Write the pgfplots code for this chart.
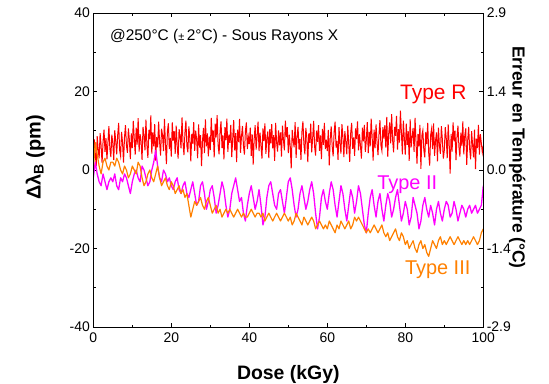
\documentclass[border=0pt]{standalone}
\usepackage{fontspec}
\setmainfont{Liberation Sans}
\usepackage{pgfplots}
\pgfplotsset{compat=1.18}
\usepackage{pgfplotstable}
\definecolor{cR}{RGB}{255,0,0}
\definecolor{cII}{RGB}{255,0,255}
\definecolor{cIII}{RGB}{255,128,0}

% Type R (dense noisy trace)
\pgfplotstableread{
x y
0 2.1
0.25 7.8
0.5 4.3
0.75 0.9
1 8.6
1.25 5.2
1.5 3.0
1.75 9.4
2 6.1
2.25 1.8
2.5 7.2
2.75 10.3
3 4.6
3.25 8.1
3.5 2.7
3.75 6.9
4 11.2
4.25 5.4
4.5 3.3
4.75 9.0
5 6.8
5.25 2.5
5.5 10.1
5.75 7.4
6 4.0
6.25 8.8
6.5 12.0
6.75 5.1
7 3.6
7.25 9.7
7.5 7.0
7.75 1.9
8 8.3
8.25 11.4
8.5 6.2
8.75 4.4
9 10.6
9.25 7.7
9.5 2.8
9.75 9.3
10 5.6
10.25 12.5
10.5 8.0
10.75 3.9
11 10.8
11.25 6.5
11.5 13.2
11.75 4.7
12 9.1
12.25 7.3
12.5 2.6
12.75 11.0
13 8.7
13.25 5.0
13.5 12.8
13.75 6.4
14 3.1
14.25 10.2
14.5 7.9
14.75 13.9
15 4.2
15.25 9.6
15.5 6.0
15.75 11.7
16 2.4
16.25 8.4
16.5 5.8
16.75 12.3
17 7.1
17.25 3.7
17.5 10.5
17.75 8.9
18 4.8
18.25 13.0
18.5 6.6
18.75 1.5
19 9.8
19.25 11.9
19.5 5.3
19.75 8.2
20 3.4
20.25 12.1
20.5 7.5
20.75 9.9
21 4.1
21.25 11.3
21.5 6.3
21.75 2.9
22 10.4
22.25 8.6
22.5 5.5
22.75 13.4
23 7.0
23.25 3.8
23.5 9.5
23.75 12.6
24 6.1
24.25 4.5
24.5 11.1
24.75 8.0
25 2.2
25.25 9.2
25.5 6.7
25.75 12.2
26 4.9
26.25 10.0
26.5 7.8
26.75 3.0
27 11.6
27.25 5.7
27.5 8.9
27.75 1.0
28 7.4
28.25 10.7
28.5 4.3
28.75 12.9
29 6.0
29.25 9.3
29.5 3.5
29.75 8.5
30 5.1
30.25 13.3
30.5 7.2
30.75 10.1
31 3.2
31.25 11.8
31.5 8.3
31.75 14.0
32 6.4
32.25 4.0
32.5 9.7
32.75 12.4
33 5.6
33.25 8.8
33.5 2.7
33.75 10.9
34 7.6
34.25 13.1
34.5 4.6
34.75 9.0
35 6.9
35.25 11.5
35.5 3.3
35.75 8.1
36 12.7
36.25 5.0
36.5 9.4
36.75 2.0
37 10.3
37.25 7.1
37.5 13.0
37.75 4.4
38 8.6
38.25 11.2
38.5 6.2
38.75 3.9
39 9.9
39.25 12.1
39.5 5.3
39.75 8.4
40 6.6
40.25 10.8
40.5 3.6
40.75 9.1
41 1.4
41.25 7.9
41.5 11.4
41.75 5.2
42 8.7
42.25 12.3
42.5 4.8
42.75 9.5
43 6.1
43.25 2.9
43.5 10.6
43.75 7.4
44 11.9
44.25 4.1
44.5 8.2
44.75 9.8
45 3.0
45.25 10.4
45.5 6.8
45.75 11.7
46 5.5
46.25 8.9
46.5 2.3
46.75 12.0
47 7.0
47.25 4.7
47.5 10.1
47.75 6.3
48 9.6
48.25 3.4
48.5 11.3
48.75 7.7
49 5.0
49.25 12.6
49.5 8.4
49.75 10.9
50 4.3
50.25 9.0
50.5 6.0
50.75 0.4
51 10.2
51.25 7.5
51.5 5.8
51.75 12.2
52 3.1
52.25 8.6
52.5 11.0
52.75 5.2
53 7.9
53.25 2.6
53.5 9.8
53.75 12.4
54 6.6
54.25 4.0
54.5 10.7
54.75 8.1
55 2.0
55.25 9.3
55.5 6.9
55.75 11.8
56 4.5
56.25 8.2
56.5 12.5
56.75 5.9
57 3.7
57.25 10.0
57.5 7.2
57.75 11.4
58 4.9
58.25 8.8
58.5 2.8
58.75 10.5
59 6.4
59.25 12.0
59.5 5.3
59.75 7.7
60 4.8
60.25 10.2
60.5 1.2
60.75 8.0
61 11.1
61.25 6.1
61.5 3.5
61.75 9.6
62 12.3
62.25 5.7
62.5 7.4
62.75 2.6
63 10.9
63.25 6.8
63.5 4.2
63.75 11.7
64 8.5
64.25 3.3
64.5 9.9
64.75 7.1
65 4.0
65.25 11.3
65.5 6.5
65.75 2.1
66 9.4
66.25 12.0
66.5 5.4
66.75 8.3
67 3.6
67.25 10.6
67.5 7.9
67.75 12.4
68 5.0
68.25 9.1
68.5 6.2
68.75 2.9
69 10.8
69.25 7.3
69.5 11.5
69.75 4.6
70 7.5
70.25 12.2
70.5 4.3
70.75 9.7
71 6.0
71.25 13.1
71.5 8.4
71.75 2.4
72 10.3
72.25 5.6
72.5 11.6
72.75 7.2
73 3.8
73.25 9.0
73.5 12.7
73.75 6.3
74 4.9
74.25 10.9
74.5 8.0
74.75 11.4
75 5.7
75.25 13.5
75.5 3.4
75.75 9.3
76 12.1
76.25 6.8
76.5 14.2
76.75 7.6
77 4.5
77.25 11.0
77.5 8.7
77.75 13.8
78 5.2
78.25 10.4
78.5 7.0
78.75 15.1
79 9.5
79.25 4.0
79.5 12.6
79.75 8.1
80 3.9
80.25 11.8
80.5 6.4
80.75 9.9
81 2.3
81.25 12.9
81.5 5.8
81.75 8.5
82 10.7
82.25 4.6
82.5 13.3
82.75 7.1
83 1.6
83.25 9.2
83.5 6.0
83.75 11.5
84 0.3
84.25 8.8
84.5 10.1
84.75 5.1
85 3.2
85.25 9.7
85.5 6.6
85.75 12.0
86 4.4
86.25 1.1
86.5 8.9
86.75 10.5
87 5.3
87.25 11.9
87.5 3.6
87.75 7.4
88 9.6
88.25 2.2
88.5 10.8
88.75 6.2
89 4.1
89.25 11.2
89.5 7.8
89.75 2.9
90 5.0
90.25 10.9
90.5 8.1
90.75 3.0
91 11.6
91.25 6.7
91.5 -0.9
91.75 9.2
92 4.7
92.25 12.1
92.5 7.3
92.75 10.0
93 2.5
93.25 8.4
93.5 11.3
93.75 5.9
94 3.4
94.25 9.5
94.5 6.1
94.75 12.4
95 4.0
95.25 8.8
95.5 10.6
95.75 1.3
96 7.6
96.25 11.0
96.5 5.4
96.75 2.7
97 9.9
97.25 6.5
97.5 3.2
97.75 10.3
98 0.2
98.25 8.0
98.5 5.6
98.75 11.5
99 3.9
99.25 9.1
99.5 6.8
99.75 4.5
100 6.2
}\redtable

% Type II (m) and Type III (o)
\pgfplotstableread{
x m o
0 -2 0
0.5 2 7
1 -1 4
1.5 -3 1
2 -4 -1
2.5 -1 2
3 -3 3
3.5 -5 1
4 -3 0
4.5 -2 2
5 -3 2
5.5 -1 1
6 -4 3
6.5 -5 2
7 -2 0
7.5 -3 -1
8 -1 1
8.5 -2 0
9 -4 -2
9.5 -6 -1
10 -3 1
10.5 -1 0
11 0 -1
11.5 -2 2
12 -3 1
12.5 1 -2
13 0 -4
13.5 -2 -3
14 -4 -1
14.5 -3 0
15 0 -2
15.5 2 -3
16 5 -1
16.5 1 1
17 -2 -2
17.5 -3 -4
18 0 -3
18.5 -1 -2
19 -3 -4
19.5 -2 -5
20 -4 -3
20.5 -5 -4
21 -3 -6
21.5 -2 -5
22 -5 -4
22.5 -6 -6
23 -4 -5
23.5 -3 -7
24 -6 -6
24.5 -7 -9
25 -5 -12
25.5 -3 -10
26 -6 -8
26.5 -9 -9
27 -8 -8
27.5 -4 -7
28 -3 -9
28.5 -6 -10
29 -10 -8
29.5 -8 -7
30 -5 -9
30.5 -4 -11
31 -7 -10
31.5 -11 -9
32 -9 -11
32.5 -6 -10
33 -3 -12
33.5 -5 -11
34 -9 -10
34.5 -12 -11
35 -10 -10
35.5 -6 -11
36 -4 -12
36.5 -2 -11
37 -5 -10
37.5 -8 -11
38 -7 -12
38.5 -11 -11
39 -13 -12
39.5 -9 -12
40 -6 -11
40.5 -4 -10
41 -7 -11
41.5 -10 -12
42 -8 -11
42.5 -5 -11
43 -9 -12
43.5 -14 -11
44 -12 -13
44.5 -7 -12
45 -4 -11
45.5 -3 -12
46 -6 -13
46.5 -9 -12
47 -10 -11
47.5 -6 -12
48 -5 -13
48.5 -8 -12
49 -11 -11
49.5 -7 -12
50 -3 -13
50.5 -2 -12
51 -5 -14
51.5 -9 -13
52 -12 -11
52.5 -10 -12
53 -6 -13
53.5 -4 -14
54 -7 -12
54.5 -10 -13
55 -8 -14
55.5 -5 -13
56 -3 -12
56.5 -6 -13
57 -11 -15
57.5 -15 -14
58 -12 -13
58.5 -7 -14
59 -5 -15
59.5 -8 -14
60 -10 -15
60.5 -6 -13
61 -3 -14
61.5 -5 -15
62 -9 -16
62.5 -12 -14
63 -8 -15
63.5 -4 -13
64 -6 -14
64.5 -10 -15
65 -13 -14
65.5 -9 -13
66 -5 -15
66.5 -7 -14
67 -11 -12
67.5 -8 -13
68 -4 -12
68.5 -6 -13
69 -10 -14
69.5 -14 -15
70 -16 -16
70.5 -11 -15
71 -7 -16
71.5 -5 -15
72 -9 -14
72.5 -12 -15
73 -8 -16
73.5 -6 -15
74 -10 -14
74.5 -13 -16
75 -9 -17
75.5 -6 -16
76 -8 -18
76.5 -12 -17
77 -10 -16
77.5 -7 -15
78 -5 -17
78.5 -9 -18
79 -13 -16
79.5 -11 -17
80 -8 -19
80.5 -10 -18
81 -14 -20
81.5 -12 -19
82 -7 -18
82.5 -9 -20
83 -11 -21
83.5 -15 -19
84 -13 -18
84.5 -9 -20
85 -7 -19
85.5 -10 -21
86 -12 -22
86.5 -9 -20
87 -11 -18
87.5 -14 -19
88 -10 -20
88.5 -8 -18
89 -11 -17
89.5 -13 -19
90 -10 -18
90.5 -8 -19
91 -9 -18
91.5 -12 -17
92 -11 -18
92.5 -8 -19
93 -10 -18
93.5 -13 -17
94 -11 -18
94.5 -9 -19
95 -10 -18
95.5 -12 -19
96 -10 -18
96.5 -9 -19
97 -11 -18
97.5 -10 -17
98 -9 -18
98.5 -11 -19
99 -10 -18
99.5 -9 -16
100 -4 -15
}\datatable

\begin{document}
\begin{tikzpicture}
\pgfplotsset{common/.style={
  scale only axis, width=390bp, height=314bp,
  xmin=0, xmax=100, ymin=-40, ymax=40,
  tick align=inside,
  major tick length=4bp, minor tick length=2.5bp,
  axis line style={line width=0.9pt},
  every tick/.style={black, line width=0.8pt},
  tick label style={font=\fontsize{14}{16}\selectfont},
  /pgf/number format/assume math mode=true,
}}
\begin{axis}[common,
  xtick={0,20,...,100}, minor xtick={10,30,...,90},
  ytick={-40,-20,...,40}, minor ytick={-30,-10,10,30},
  xtick pos=both, ytick pos=left,
  xticklabel style={yshift=-2bp},
  xlabel={\bfseries Dose (kGy)},
  ylabel={\bfseries Δλ\textsubscript{B} (pm)},
  xlabel style={font=\fontsize{19.5}{22}\selectfont, at={(axis description cs:0.5,-0.152)}, anchor=center},
  ylabel style={font=\fontsize{20}{22}\selectfont, at={(axis description cs:-0.149,0.54)}, anchor=center},
]
\coordinate (o) at (rel axis cs:0,0);
\addplot[cR, line width=1.0pt] table[x=x, y=y]{\redtable};
\addplot[cII, line width=1.3pt, line join=round] table[x=x, y=m]{\datatable};
\addplot[cIII, line width=1.2pt, line join=round] table[x=x, y=o]{\datatable};
\node[anchor=west, font=\fontsize{15.5}{18}\selectfont] at (axis cs:3.4,33.9) {@250°C ({\fontsize{11}{12}\selectfont ±}\,2°C) - Sous Rayons X};
\node[text=cR, font=\fontsize{21}{24}\selectfont] at (axis cs:87.2,19.2) {Type R};
\node[text=cII, font=\fontsize{20}{24}\selectfont] at (axis cs:80.5,-3.8) {Type II};
\node[text=cIII, font=\fontsize{20}{24}\selectfont] at (axis cs:88.3,-25.5) {Type III};
\end{axis}
\begin{axis}[common,
  xtick=\empty,
  ytick={-40,-20,0,20,40}, yticklabels={-2.9,-1.4,0.0,1.4,2.9},
  minor ytick={-30,-10,10,30},
  ytick pos=right, yticklabel pos=right,
  ylabel={\bfseries Erreur en Température (°C)},
  ylabel style={font=\fontsize{17.5}{20}\selectfont, at={(axis description cs:1.087,0.54)}, anchor=center, rotate=180},
]
\end{axis}
\pgfresetboundingbox
\path (o) ++(-93.3bp,-57bp) rectangle ++(549bp,384bp);
\end{tikzpicture}
\end{document}
